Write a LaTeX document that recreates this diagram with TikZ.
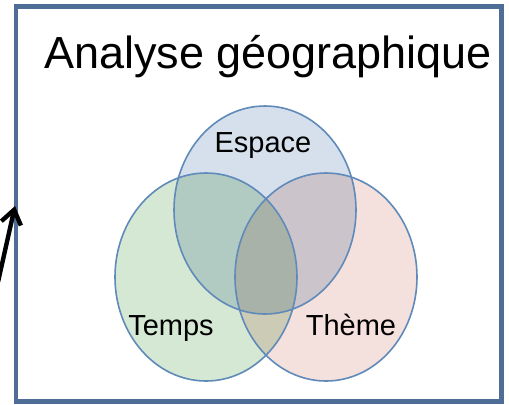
\documentclass[tikz,border=0pt]{standalone}
\usepackage{fontspec}
\setmainfont{Liberation Sans}
\usetikzlibrary{arrows.meta}
\definecolor{cadre}{HTML}{4E6D97}
\definecolor{bord}{HTML}{5F8AB9}
\definecolor{bleu}{HTML}{D5E0EC}
\definecolor{vert}{HTML}{D5E8D3}
\definecolor{rose}{HTML}{F4E0DC}
\tikzset{
  cercle/.style={draw=bord,line width=0.8pt},
  etiquette/.style={font=\fontsize{14.5}{16}\selectfont,inner sep=0pt,anchor=base},
  fleche/.style={-{Straight Barb[length=7pt,width=10pt]},line width=2.2pt},
}
\begin{document}
\begin{tikzpicture}[x=0.5pt,y=-0.5pt]
  \def\rx{91};
  \def\ry{104};
  \useasboundingbox (0,0) rectangle (509,404);
  \fill[white] (0,0) rectangle (509,404);
  \draw[cadre,line width=2.25pt] (16,6.5) rectangle (501.5,401.5);
  \node[font=\fontsize{22.5}{26}\selectfont,inner sep=0pt,anchor=base] (titre) at (268,68) {Analyse géographique};
  \begin{scope}[blend group=multiply]
    \fill[bleu] (265,210) ellipse ({\rx} and {\ry});
    \fill[vert] (206,277) ellipse ({\rx} and {\ry});
    \fill[rose] (326,277) ellipse ({\rx} and {\ry});
  \end{scope}
  \draw[cercle] (265,210) ellipse ({\rx} and {\ry});
  \draw[cercle] (206,277) ellipse ({\rx} and {\ry});
  \draw[cercle] (326,277) ellipse ({\rx} and {\ry});
  \node[etiquette] (espace) at (263,152) {Espace};
  \node[etiquette] (temps) at (171,335) {Temps};
  \node[etiquette] (theme) at (351,335) {Thème};
  \coordinate (queue) at (-2,282);
  \coordinate (pointe) at (15,206);
  \draw[fleche] (queue) -- (pointe);
\end{tikzpicture}
\end{document}
